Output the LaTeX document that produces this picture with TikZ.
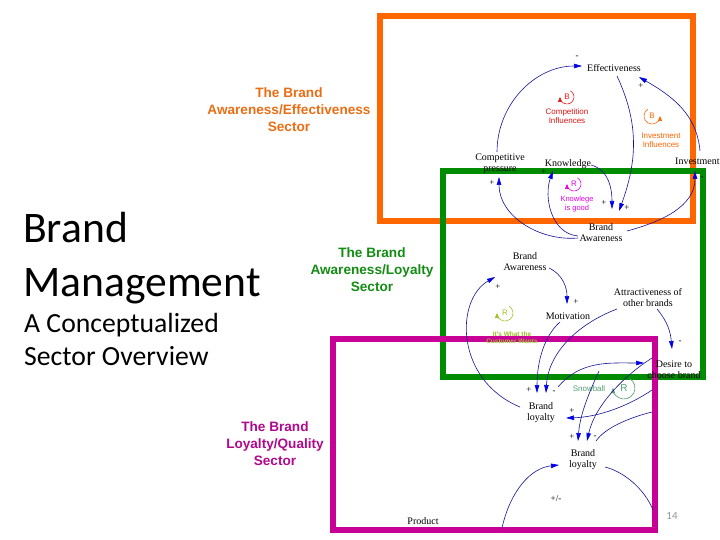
\documentclass[tikz,border=0pt]{standalone}
\usepackage{fontspec}
\setmainfont{Liberation Serif}
\newfontfamily\titlefont{Carlito}
\newfontfamily\arialfont{Liberation Sans}
\usetikzlibrary{arrows.meta}
\definecolor{orng}{RGB}{255,102,0}
\definecolor{orngtxt}{RGB}{235,110,20}
\definecolor{grn}{RGB}{0,140,0}
\definecolor{grntxt}{RGB}{20,140,20}
\definecolor{mag}{RGB}{200,0,150}
\definecolor{magtxt}{RGB}{175,10,140}
\definecolor{lineblue}{RGB}{20,20,150}
\definecolor{arrowblue}{RGB}{0,0,230}
\definecolor{compred}{RGB}{225,20,20}
\definecolor{knowmag}{RGB}{230,0,230}
\definecolor{olive}{RGB}{165,190,40}
\definecolor{snowgrn}{RGB}{80,160,110}
\definecolor{pagegray}{RGB}{150,150,150}
\tikzset{
  sector/.style={line width=6pt},
  var/.style={inner sep=0pt, align=center, font=\fontsize{10}{11}\selectfont},
  sectortitle/.style={inner sep=0pt, align=center, font=\arialfont\bfseries\fontsize{13.6}{17}\selectfont},
  cld/.style={draw=lineblue, line width=0.6pt, -{Triangle[length=8pt,width=4.5pt,color=arrowblue]}},
  cldline/.style={draw=lineblue, line width=0.6pt},
  sgn/.style={inner sep=0pt, font=\fontsize{9}{9}\selectfont},
  looptxt/.style={inner sep=0pt, align=center, font=\arialfont\fontsize{8}{9}\selectfont},
  loopletter/.style={inner sep=0pt, font=\arialfont\fontsize{8}{8}\selectfont},
  looparc/.style={line width=0.6pt, -{Triangle[length=5pt,width=4pt]}},
  bigtitle/.style={inner sep=0pt, anchor=base west, font=\titlefont\fontsize{43.6}{50}\selectfont},
  subtitle/.style={inner sep=0pt, anchor=base west, font=\titlefont\fontsize{27.7}{32}\selectfont},
}
\begin{document}
\begin{tikzpicture}[x=1pt,y=-1pt]
\path[use as bounding box, fill=white] (0,0) rectangle (720,540);

% sector frames
\draw[sector, draw=orng] (380,16) rectangle (693,221);
\draw[sector, draw=grn] (443,171) rectangle (703,377);
\draw[sector, draw=mag] (333,339) rectangle (655,530);

% left titles
\node[bigtitle] (t1) at (23,243) {Brand};
\node[bigtitle] (t2) at (23,296) {Management};
\node[subtitle] (t3) at (24,332) {A Conceptualized};
\node[subtitle] (t4) at (24,365) {Sector Overview};

% sector titles
\node[sectortitle, text=orngtxt] (s1) at (289,110) {The Brand\\Awareness/Effectiveness\\Sector};
\node[sectortitle, text=grntxt] (s2) at (372,270) {The Brand\\Awareness/Loyalty\\Sector};
\node[sectortitle, text=magtxt] (s3) at (275,444) {The Brand\\Loyalty/Quality\\Sector};

% variables
\node[var] (eff) at (614,68) {Effectiveness};
\node[var] (comp) at (500,164) {Competitive\\pressure};
\node[var] (know) at (568,164) {Knowledge};
\node[var, anchor=west] (inv) at (675,161) {Investment};
\node[var] (baw1) at (601,233) {Brand\\Awareness};
\node[var] (baw2) at (525,262) {Brand\\Awareness};
\node[var] (mot) at (568,316) {Motivation};
\node[var] (attr) at (648,298) {Attractiveness of\\other brands};
\node[var] (des) at (674,370) {Desire to\\choose brand};
\node[var] (bl1) at (541,413) {Brand\\loyalty};
\node[var] (bl2) at (583,460) {Brand\\loyalty};
\node[var] (prod) at (423,521) {Product};
\coordinate (c14) at (599,371);
\coordinate (c17a) at (652,412);
\coordinate (c17b) at (596,441);
\coordinate (c18) at (502,528);
\coordinate (c19) at (653,510);

% loop markers
\node[loopletter, text=compred] (lb1) at (567,97) {B};
\draw[looparc, compred] ([shift={(-60:7)}]lb1.center) arc[start angle=-60, end angle=180, radius=7];
\node[looptxt, text=compred] (lt1) at (567,116) {Competition\\Influences};

\node[loopletter, text=orng] (lb2) at (652,116) {B};
\draw[looparc, orng] ([shift={(-120:8)}]lb2.center) arc[start angle=-120, end angle=-360, radius=8];
\node[looptxt, text=orng] (lt2) at (661,140) {Investment\\Influences};

\node[loopletter, text=knowmag] (lr1) at (574,184) {R};
\draw[looparc, knowmag] ([shift={(-60:7)}]lr1.center) arc[start angle=-60, end angle=180, radius=7];
\node[looptxt, text=knowmag, font=\arialfont\fontsize{7.5}{8.5}\selectfont] (lt3) at (577,204) {Knowlege\\is good};

\node[loopletter, text=olive] (lr2) at (505,313) {R};
\draw[looparc, olive] ([shift={(-60:8)}]lr2.center) arc[start angle=-60, end angle=180, radius=8];
\node[looptxt, text=olive, font=\arialfont\bfseries\fontsize{6.5}{7}\selectfont] (lt4) at (512,338) {It's What the\\Customer Wants};

\node[loopletter, text=snowgrn, font=\arialfont\fontsize{10}{10}\selectfont] (lr3) at (624,388) {R};
\draw[looparc, snowgrn] ([shift={(-60:11)}]lr3.center) arc[start angle=-60, end angle=180, radius=11];
\node[looptxt, text=snowgrn, anchor=center] (lt5) at (589,389) {Snowball};

% connectors: top sector
\draw[cld] ([shift={(-3,-12)}]comp.center) to[out=90,in=180] ([shift={(-32,-2)}]eff.center);
\node[sgn] at (577,57) {-};
\draw[cld] ([shift={(25,-10)}]inv.west) to[out=95,in=-30] ([shift={(25,9)}]eff.center);
\node[sgn] at (641,86) {+};
\draw[cld] ([shift={(3,8)}]eff.center) to[out=-65,in=70] ([shift={(18,-22)}]baw1.center);
\node[sgn] at (627,208) {+};
\draw[cld] ([shift={(23,1)}]know.center) to[out=-15,in=90] ([shift={(11,-24)}]baw1.center);
\node[sgn] at (604,203) {+};
\draw[cld] ([shift={(-23,3)}]baw1.center) to[out=175,in=250] ([shift={(-15,7)}]know.center);
\node[sgn] at (544,172) {+};
\draw[cld] ([shift={(-23,5)}]baw1.center) to[out=185,in=-90] ([shift={(-1,13)}]comp.center);
\node[sgn] at (492,183) {+};
\draw[cld] ([shift={(26,-2)}]baw1.center) to[out=15,in=-90] ([shift={(20,10)}]inv.west);
\node[sgn] at (702,178) {-};

% connectors: middle sector
\draw[cld] ([shift={(24,6)}]baw2.center) to[out=-25,in=90] ([shift={(-1,-12)}]mot.center);
\node[sgn] at (576,302) {+};
\draw[cld] ([shift={(-21,-6)}]bl1.center) .. controls (455,380) and (455,300) .. ([shift={(-30,15)}]baw2.center);
\node[sgn] at (498,287) {+};
\draw[cld] ([shift={(9,11)}]attr.center) to[out=-50,in=95] ([shift={(-2,-21)}]des.center);
\node[sgn] at (680,342) {-};
\draw[cld] ([shift={(-31,11)}]attr.center) .. controls (575,325) and (548,355) .. ([shift={(5,-20)}]bl1.center);
\draw[cld] ([shift={(-8,6)}]mot.center) .. controls (545,335) and (537,360) .. ([shift={(-4,-20)}]bl1.center);
\node[sgn] at (529,390) {+};
\node[sgn] at (554,392) {-};
\draw[cld] ([shift={(17,-26)}]bl1.center) to[out=50,in=180] ([shift={(-30,-7)}]des.center);

% connectors: lower sector
\draw[cld] (c14) .. controls (588,395) and (580,415) .. ([shift={(-5,-19)}]bl2.center);
\draw[cld] ([shift={(-22,-12)}]des.center) .. controls (625,375) and (595,405) .. ([shift={(4,-19)}]bl2.center);
\node[sgn] at (572,437) {+};
\draw[cldline] (c17a) .. controls (628,418) and (605,428) .. (c17b);
\node[sgn] at (595,437) {-};
\draw[cld] ([shift={(-22,20)}]des.center) .. controls (630,405) and (600,417) .. ([shift={(25,5)}]bl1.center);
\node[sgn] at (572,411) {+};
\draw[cld] (c18) .. controls (510,492) and (530,468) .. ([shift={(-24,5)}]bl2.center);
\draw[cldline] ([shift={(22,7)}]bl2.center) .. controls (625,472) and (645,490) .. (c19);
\node[sgn] at (556,499) {+/-};

% page number
\node[inner sep=0pt, text=pagegray, font=\titlefont\fontsize{11}{11}\selectfont] (pg) at (672,516) {14};
\end{tikzpicture}
\end{document}
